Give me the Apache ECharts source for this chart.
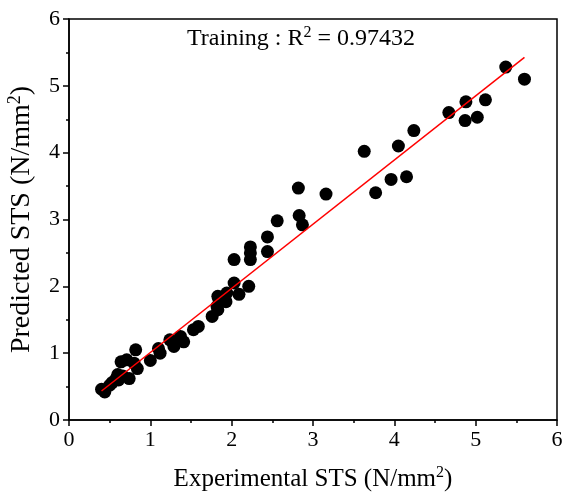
<!DOCTYPE html>
<html>
<head>
<meta charset="utf-8">
<script src="https://cdn.jsdelivr.net/npm/echarts@6/dist/echarts.min.js"></script>
<style>
  html, body { margin: 0; padding: 0; background: #fff; }
  #chart { width: 569px; height: 495px; }
</style>
</head>
<body>
<div id="chart"></div>
<script>
// experimental vs predicted STS (N/mm2), training set
var experimental = [0.40, 0.44, 0.50, 0.53, 0.58, 0.60, 0.61, 0.64, 0.66, 0.71, 0.74, 0.80, 0.82, 0.84,
    1.00, 1.10, 1.12, 1.24, 1.29, 1.37, 1.41, 1.53, 1.59, 1.76, 1.82, 1.83, 1.83, 1.84, 1.93, 1.94,
    2.03, 2.03, 2.09, 2.21, 2.23, 2.23, 2.23, 2.44, 2.44, 2.56, 2.82, 2.83, 2.87, 3.16,
    3.63, 3.77, 3.96, 4.05, 4.15, 4.24, 4.67, 4.87, 4.88, 5.02, 5.12, 5.37, 5.60];
var predicted = [0.46, 0.42, 0.52, 0.56, 0.62, 0.68, 0.60, 0.87, 0.66, 0.90, 0.62, 0.85, 1.05, 0.77,
    0.89, 1.07, 1.00, 1.20, 1.10, 1.25, 1.17, 1.35, 1.40, 1.55, 1.70, 1.65, 1.85, 1.82, 1.77, 1.90,
    2.40, 2.05, 1.88, 2.00, 2.59, 2.50, 2.40, 2.74, 2.52, 2.98, 3.47, 3.06, 2.92, 3.38,
    4.02, 3.40, 3.60, 4.10, 3.64, 4.33, 4.60, 4.48, 4.76, 4.53, 4.79, 5.28, 5.10];
var axisTicks = [0, 1, 2, 3, 4, 5, 6];
// linear fit
var fitSlope = 0.96;
var fitIntercept = 0.05;

var points = [];
for (var i = 0; i < experimental.length; i++) {
    points.push([experimental[i], predicted[i]]);
}
var xMin = Math.min.apply(null, experimental);
var xMax = Math.max.apply(null, experimental);
var fitLine = [[xMin, fitSlope * xMin + fitIntercept], [xMax, fitSlope * xMax + fitIntercept]];

var font = '"Liberation Serif", "Times New Roman", serif';

function supStyle(size) {
    return { fontFamily: font, fontSize: size, color: '#000', verticalAlign: 'top', padding: [0, 0, Math.round(size * 0.75), 0] };
}

function axisOption(name, gap, nameSize) {
    return {
        type: 'value',
        min: axisTicks[0],
        max: axisTicks[axisTicks.length - 1],
        interval: 1,
        name: name,
        nameLocation: 'middle',
        nameGap: gap,
        nameTextStyle: {
            fontFamily: font, fontSize: nameSize, color: '#000',
            rich: { sup: supStyle(Math.round(nameSize * 0.64)) }
        },
        axisLine: { show: true, onZero: false, lineStyle: { color: '#000', width: 1.5 } },
        axisTick: { show: true, inside: false, length: 6, lineStyle: { color: '#000', width: 1.5 } },
        minorTick: { show: true, splitNumber: 2, length: 3, lineStyle: { color: '#000', width: 1.5 } },
        splitLine: { show: false },
        axisLabel: { fontFamily: font, fontSize: 22, color: '#000', margin: 9 }
    };
}

var chart = echarts.init(document.getElementById('chart'));
chart.setOption({
    backgroundColor: '#fff',
    animation: false,
    grid: {
        left: 69, right: 12, top: 19, bottom: 75,
        outerBoundsMode: 'none',
        containLabel: false,
        show: true, borderColor: '#000', borderWidth: 1.5
    },
    title: {
        text: 'Training : R{sup|2} = 0.97432',
        left: 296,
        textAlign: 'center',
        top: 20,
        textStyle: {
            fontFamily: font, fontSize: 24, fontWeight: 'normal', color: '#000',
            rich: { sup: supStyle(16) }
        }
    },
    xAxis: axisOption('Experimental STS (N/mm{sup|2})', 45, 25),
    yAxis: axisOption('Predicted STS (N/mm{sup|2})', 31, 28),
    series: [
        {
            type: 'scatter',
            data: points,
            symbol: 'circle',
            symbolSize: 13,
            itemStyle: { color: '#000', opacity: 1 },
            z: 2
        },
        {
            type: 'line',
            data: fitLine,
            symbol: 'none',
            lineStyle: { color: '#ff0000', width: 1.5 },
            z: 3
        }
    ]
});
</script>
</body>
</html>
